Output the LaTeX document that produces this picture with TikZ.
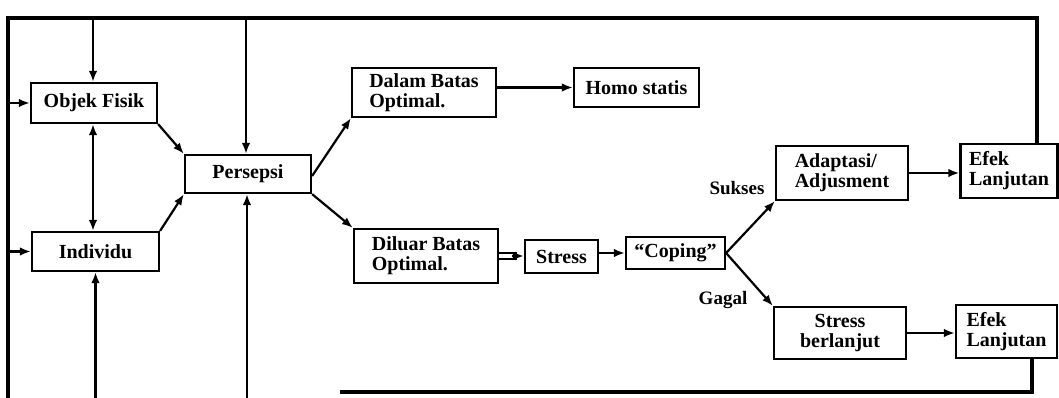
\documentclass[tikz,border=0pt]{standalone}
\usepackage{fontspec}
\setmainfont{Liberation Serif}
\usetikzlibrary{arrows.meta}
\tikzset{
  box/.style={draw, line width=2.2pt, inner sep=0pt, align=left,
    font=\bfseries\fontsize{20}{20}\selectfont},
  lbl/.style={inner sep=0pt, font=\bfseries\fontsize{19}{20}\selectfont},
  arr/.style={line width=2.2pt, -{Latex[length=11pt,width=8.5pt]}},
  biarr/.style={line width=2.2pt, {Latex[length=11pt,width=8.5pt]}-{Latex[length=11pt,width=8.5pt]}},
  ln/.style={line width=1.6pt},
  frame/.style={line width=3.2pt, line join=miter}
}
\begin{document}
\begin{tikzpicture}[x=1pt,y=-1pt]
\useasboundingbox (0,0) rectangle (1059,398);
% nodes
\node[box, minimum width=126, minimum height=40] (obj) at (94,103) {Objek Fisik};
\node[box, minimum width=127, minimum height=39] (ind) at (95.5,251.5) {Individu};
\node[box, minimum width=126, minimum height=38] (per) at (248,174) {Persepsi};
\node[box, minimum width=144, minimum height=49] (dal) at (424,92.5) {Dalam Batas\\Optimal.};
\node[box, minimum width=125, minimum height=39] (homo) at (636.5,87.5) {Homo statis};
\node[box, minimum width=144, minimum height=54] (dil) at (426,256) {Diluar Batas\\Optimal.};
\node[box, minimum width=73, minimum height=33] (str) at (561.5,256.5) {Stress};
\node[box, minimum width=99, minimum height=32] (cop) at (675.5,253) {``Coping''};
\node[box, minimum width=132, minimum height=54] (ada) at (842,173) {Adaptasi/\\Adjusment};
\node[box, minimum width=97, minimum height=54] (efk1) at (1009,171) {Efek\\Lanjutan};
\node[box, minimum width=132, minimum height=52, align=center] (sb) at (840,333) {Stress\\berlanjut};
\node[box, minimum width=101, minimum height=53] (efk2) at (1006.5,331.5) {Efek\\Lanjutan};
\node[lbl] (suk) at (737,188) {Sukses};
\node[lbl] (gag) at (723,300) {Gagal};
% frame coordinates
\coordinate (TL) at (8,18);
\coordinate (BL) at (8,398);
\coordinate (TR) at (1037,18);
\coordinate (BR) at (1032,392);
\coordinate (BE) at (340,392);
\coordinate (BB) at (0,398);
% outer loop lines
\draw[frame] (TR |- efk1.north) -- (TR) -- (TL) -- (BL);
\draw[frame] (BR |- efk2.south) -- (BR) -- (BE);
% inputs
\draw[arr] (obj.west -| TL) -- (obj.west);
\draw[arr] (ind.west -| TL) -- (ind.west);
\draw[arr] ([xshift=-1]obj.north |- TL) -- ([xshift=-1]obj.north);
\draw[arr] ([xshift=-2]per.north |- TL) -- ([xshift=-2]per.north);
\draw[arr] (ind.south |- BB) -- (ind.south);
\draw[arr] ([xshift=-1]per.south |- BB) -- ([xshift=-1]per.south);
\draw[biarr] ([xshift=-1]obj.south) -- ([xshift=-1]obj.south |- ind.north);
% flow
\draw[arr] (obj.south east) -- (per.north west);
\draw[arr] (ind.north east) -- (per.south west);
\draw[arr] ([yshift=-2]per.east) -- (dal.south west);
\draw[arr] (per.south east) -- (dil.north west);
\draw[arr] (dal.east |- homo.west) -- (homo.west);
\draw[ln] ([yshift=-2.8]dil.east) -- ([xshift=-7,yshift=-2.8]dil.east -| str.west);
\draw[ln] ([yshift=2.8]dil.east) -- ([xshift=-7,yshift=2.8]dil.east -| str.west);
\draw[arr] ([xshift=-12]dil.east -| str.west) -- (dil.east -| str.west);
\draw[arr] (str.east |- cop.west) -- (cop.west);
\draw[arr] (cop.east) -- (ada.south west);
\draw[arr] (cop.east) -- (sb.north west);
\draw[arr] (ada.east) -- (ada.east -| efk1.west);
\draw[arr] (sb.east) -- (sb.east -| efk2.west);
\end{tikzpicture}
\end{document}
